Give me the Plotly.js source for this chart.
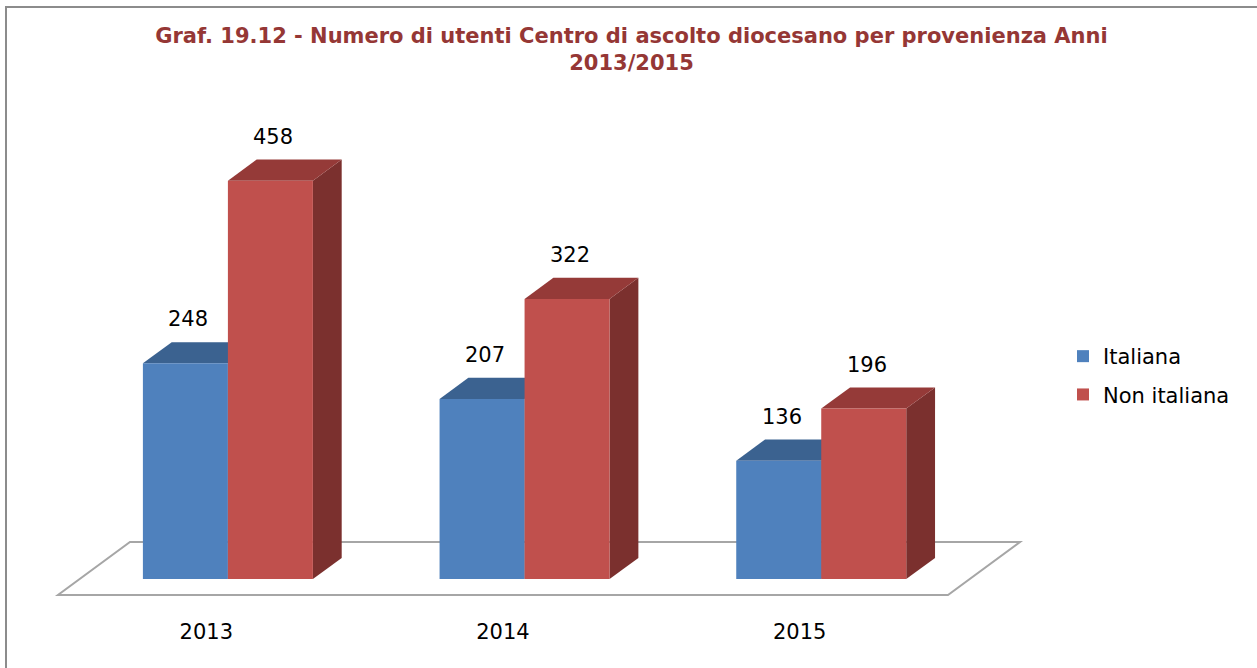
<!DOCTYPE html>
<html>
<head>
<meta charset="utf-8">
<script src="https://cdn.plot.ly/plotly-3.0.1.min.js"></script>
<style>html,body{margin:0;padding:0;background:#fff;}#chart{width:1257px;height:668px;}</style>
</head>
<body>
<div id="chart"></div>
<script>
// ---- data ----
const years = ['2013', '2014', '2015'];
const italiana = [248, 207, 136];
const nonItaliana = [458, 322, 196];
const seriesNames = ['Italiana', 'Non italiana'];
const titleText = 'Graf. 19.12 - Numero di utenti Centro di ascolto diocesano per provenienza Anni<br>2013/2015';

// ---- styling / geometry ----
const frontColors = ['#4F81BD', '#C0504D'];
const topColors = ['#3B6290', '#953A38'];
const sideColors = ['#385D8A', '#7B302E'];
const FONT = 'DejaVu Sans, Verdana, sans-serif';

const W_PX = 1257, H_PX = 668;
const L = 40, R = 1040, T = 100, B = 617;
const PX_PER_CAT = 296.67, PX_PER_VAL = 0.870;
const FRONT_X0 = 206.3, FRONT_Y0 = 595;          // pixel of category 0 / value 0 at floor front
const FLOOR_DX = 72 / PX_PER_CAT, FLOOR_DY = 53 / PX_PER_VAL;
const dF = 0.30, dB = 0.70;                      // bar depth range inside floor
const BW = 85 / PX_PER_CAT;                      // bar width in category units

const xr = [(L - FRONT_X0) / PX_PER_CAT, (R - FRONT_X0) / PX_PER_CAT];
const yr = [(FRONT_Y0 - B) / PX_PER_VAL, (FRONT_Y0 - T) / PX_PER_VAL];

function proj(c, v, d) { return [c + d * FLOOR_DX, v + d * FLOOR_DY]; }
function pathOf(pts) { return 'M' + pts.map(p => p[0] + ',' + p[1]).join('L') + 'Z'; }

const series = [italiana, nonItaliana];
const shapes = [];
// border frame (paper coords)
const px2paperX = px => (px - L) / (R - L);
const px2paperY = py => (B - py) / (B - T);
shapes.push({type: 'rect', xref: 'paper', yref: 'paper', layer: 'below',
  x0: px2paperX(6), x1: px2paperX(1270), y0: px2paperY(7), y1: px2paperY(690),
  line: {color: '#8C8C8C', width: 2}, fillcolor: 'rgba(0,0,0,0)'});
// floor
shapes.push({type: 'path', xref: 'x', yref: 'y', layer: 'below',
  path: pathOf([proj(-0.5, 0, 0), proj(years.length - 0.5, 0, 0), proj(years.length - 0.5, 0, 1), proj(-0.5, 0, 1)]),
  line: {color: '#A6A6A6', width: 2}, fillcolor: '#FFFFFF'});

const traces = [];
const annotations = [];
series.forEach((vals, s) => {
  const xs = [], bases = [];
  vals.forEach((v, i) => {
    const x0 = i - BW + s * BW;
    xs.push(proj(x0, 0, dF)[0]);
    bases.push(proj(x0, 0, dF)[1]);
  });
  traces.push({type: 'bar', name: seriesNames[s], x: xs, y: vals, base: bases,
    width: BW, offset: 0, marker: {color: frontColors[s], line: {width: 0}},
    hoverinfo: 'skip', legendgroup: 'g' + s});
});
// 3D faces (drawn below the front faces), category by category
years.forEach((yr_, i) => {
  series.forEach((vals, s) => {
    const v = vals[i];
    const x0 = i - BW + s * BW, x1 = x0 + BW;
    shapes.push({type: 'path', xref: 'x', yref: 'y', layer: 'below',
      path: pathOf([proj(x1, 0, dF), proj(x1, v, dF), proj(x1, v, dB), proj(x1, 0, dB)]),
      line: {width: 0}, fillcolor: sideColors[s]});
    shapes.push({type: 'path', xref: 'x', yref: 'y', layer: 'below',
      path: pathOf([proj(x0, v, dF), proj(x1, v, dF), proj(x1, v, dB), proj(x0, v, dB)]),
      line: {width: 0}, fillcolor: topColors[s]});
    const f = proj((x0 + x1) / 2, v, dF);
    annotations.push({x: f[0], y: f[1], xref: 'x', yref: 'y', text: String(v), showarrow: false,
      xanchor: 'center', yanchor: 'middle', xshift: 3, yshift: 44,
      font: {family: FONT, size: 21, color: '#000000'}});
  });
});

const layout = {
  width: W_PX, height: H_PX,
  margin: {l: L, r: W_PX - R, t: T, b: H_PX - B, pad: 0},
  paper_bgcolor: '#FFFFFF', plot_bgcolor: 'rgba(0,0,0,0)',
  title: {text: titleText, font: {family: FONT, size: 21, color: '#953735', weight: 'bold'},
    xref: 'container', x: 631.5 / W_PX, xanchor: 'center', yref: 'container', y: 1 - 43 / H_PX, yanchor: 'top'},
  barmode: 'overlay',
  xaxis: {range: xr, tickmode: 'array', tickvals: years.map((y, i) => i), ticktext: years,
    showgrid: false, zeroline: false, showline: false, ticks: '', fixedrange: true,
    tickfont: {family: FONT, size: 21, color: '#000000'}},
  yaxis: {range: yr, showgrid: false, zeroline: false, showline: false, showticklabels: false, ticks: '', fixedrange: true},
  legend: {xref: 'container', yref: 'container', x: 1063 / W_PX, y: 1 - 336 / H_PX, xanchor: 'left', yanchor: 'top',
    font: {family: FONT, size: 21, color: '#000000'}, tracegroupgap: 8, bgcolor: 'rgba(0,0,0,0)'},
  shapes: shapes,
  annotations: annotations,
  showlegend: true
};
Plotly.newPlot('chart', traces, layout, {displayModeBar: false, staticPlot: true});
</script>
</body>
</html>
